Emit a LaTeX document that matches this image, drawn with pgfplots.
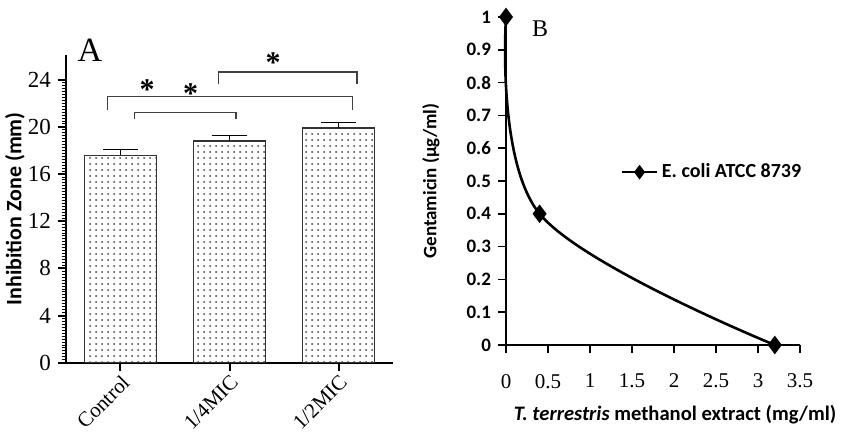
\documentclass[border=0pt]{standalone}
\usepackage{fontspec}
\setmainfont{Liberation Serif}
\newfontfamily\carlito{Carlito}
\usepackage{pgfplots}
\pgfplotsset{compat=1.18}
\usetikzlibrary{patterns}

\begin{document}
\begin{tikzpicture}
\path[use as bounding box] (0,0) rectangle (422.5pt,217pt);

% ---- panel A
\begin{axis}[
  at={(33pt,35.65pt)}, anchor=south west,
  scale only axis, width=163.5pt, height=153.85pt,
  clip=false,
  xmin=-0.5, xmax=2.5, ymin=0, ymax=26.1,
  axis x line*=bottom, axis y line*=left,
  axis line style={line width=1pt, -},
  tick align=outside,
  xtick={0,1,2}, xticklabels={Control,1/4MIC,1/2MIC},
  ytick={0,4,...,24}, minor y tick num=15,
  major tick length=4pt, minor tick length=2pt,
  major tick style={line width=1pt, black},
  minor tick style={line width=0.5pt, black},
  /pgf/number format/assume math mode=true,
  yticklabel style={font=\fontsize{11.5}{13}\selectfont},
  xticklabel style={font=\fontsize{10.5}{12}\selectfont, rotate=45, anchor=north east, inner sep=1pt},
  ylabel={Inhibition Zone (mm)},
  ylabel style={font=\carlito\bfseries\fontsize{11}{13}\selectfont, at={(axis description cs:-0.156,0.5)}, anchor=center},
]
\addplot[ybar, bar width=36pt, draw=black!80, line width=0.6pt,
  pattern=dots, pattern color=black!75,
  error bars/.cd, y dir=plus, y explicit,
  error bar style={line width=0.6pt, black},
  error mark options={rotate=90, mark size=8.75pt, line width=0.6pt, black}]
  coordinates {(0,17.6) +- (0,0.5) (1,18.8) +- (0,0.5) (2,19.9) +- (0,0.5)};
% significance brackets
\draw[black!75, line width=0.6pt] (axis cs:-0.12,21.4) -- (axis cs:-0.12,22.55) -- (axis cs:2.13,22.55) -- (axis cs:2.13,21.4);
\draw[black!75, line width=0.6pt] (axis cs:0.13,20.66) -- (axis cs:0.13,21.22) -- (axis cs:1.06,21.22) -- (axis cs:1.06,20.66);
\draw[black!75, line width=0.6pt] (axis cs:0.90,23.6) -- (axis cs:0.90,24.65) -- (axis cs:2.17,24.65) -- (axis cs:2.17,23.6);
\node[font=\bfseries\fontsize{15}{15}\selectfont] at (axis cs:0.245,23.2) {*};
\node[font=\bfseries\fontsize{15}{15}\selectfont] at (axis cs:0.644,22.8) {*};
\node[font=\bfseries\fontsize{15}{15}\selectfont] at (axis cs:1.40,25.45) {*};
\node[font=\fontsize{17}{19}\selectfont] at (axis description cs:0.073,1.016) {A};
\end{axis}

% ---- panel B
\begin{axis}[
  at={(253pt,44.5pt)}, anchor=south west,
  scale only axis, width=147pt, height=164pt,
  clip=false,
  xmin=0, xmax=3.5, ymin=0, ymax=1,
  axis x line*=bottom, axis y line*=left,
  axis line style={line width=1pt, -},
  tick align=outside,
  xtick={0,0.5,...,3.5}, ytick={0,0.1,...,1.0},
  major tick length=4pt,
  major tick style={line width=0.8pt, black},
  /pgf/number format/assume math mode=true,
  yticklabel style={font=\carlito\bfseries\fontsize{9.5}{11}\selectfont, /pgf/number format/fixed},
  xticklabel style={font=\fontsize{10.5}{12}\selectfont, yshift=-7pt, /pgf/number format/fixed},
  ylabel={Gentamicin (μg/ml)},
  ylabel style={font=\carlito\bfseries\fontsize{9.5}{11}\selectfont, at={(axis description cs:-0.255,0.5)}, anchor=center},
  xlabel={\textit{T. terrestris} methanol extract (mg/ml)},
  xlabel style={font=\carlito\bfseries\fontsize{10.3}{12}\selectfont, at={(axis description cs:0.575,-0.213)}, anchor=center},
  legend style={at={(axis description cs:0.37,0.527)}, anchor=west, draw=none, fill=none,
    font=\carlito\bfseries\fontsize{10}{12}\selectfont},
  legend image post style={mark size=2.6pt},
]
\addplot[black, line width=1.3pt, smooth, tension=0.58, mark=diamond*, mark size=3.6pt]
  coordinates {(0,1) (0.4,0.4) (3.2,0)};
\addlegendentry{E. coli ATCC 8739}
\node[font=\fontsize{12}{14}\selectfont] at (axis description cs:0.116,0.963) {B};
\end{axis}
\end{tikzpicture}
\end{document}
